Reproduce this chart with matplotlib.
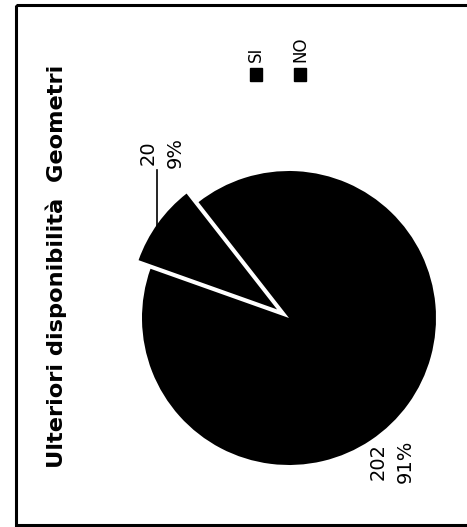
import numpy as np
import matplotlib as mpl
mpl.use('agg')
import matplotlib.pyplot as plt
from matplotlib.patches import Rectangle

# data
categories = ['SI', 'NO']
counts     = [20, 202]
pct_labels = ['9%', '91%']
title      = 'Ulteriori disponibilità  Geometri'

W, H = 467, 527
fig = plt.figure(figsize=(W/100, H/100), dpi=100)
fig.patch.set_facecolor('white')

# overlay axes in pixel coordinates (y down)
ov = fig.add_axes([0, 0, 1, 1])
ov.set_xlim(0, W)
ov.set_ylim(H, 0)
ov.axis('off')
ov.add_patch(Rectangle((16, 5), 470, 520, fill=False, lw=2.2, ec='k'))

# pie: center (289,318) px, radius 147 px
cx, cy, r = 289, 318, 147
lim = 1.2
side = 2*lim*r
ax = fig.add_axes([(cx - side/2)/W, (H - cy - side/2)/H, side/W, side/H])
wedges, _ = ax.pie(counts, explode=[0.1, 0.0], startangle=128,
                   colors=['k', 'k'], wedgeprops=dict(linewidth=0))
ax.set_xlim(-lim, lim)
ax.set_ylim(-lim, lim)
ax.set_aspect('equal')
ax.axis('off')

# leader line for the small slice
ov.plot([157, 157], [170, 226], color='k', lw=1.2)

lab_font = dict(family='DejaVu Sans', fontsize=14, rotation=90,
                ha='center', va='center', linespacing=1.55)
ov.text(162, 153, f'{counts[0]}\n{pct_labels[0]}', **lab_font)
ov.text(392, 461, f'{counts[1]}\n{pct_labels[1]}', **lab_font)

# title
ov.text(56, 266, title, rotation=90, ha='center', va='center',
        fontsize=16.2, fontweight='bold', family='DejaVu Sans')

# legend (rotated)
leg_x = [256, 300]
for x, name in zip(leg_x, categories):
    ov.add_patch(Rectangle((x - 6, 68), 12, 13, color='k'))
    ov.text(x, 62, name, rotation=90, ha='center', va='bottom',
            fontsize=12, family='DejaVu Sans')

fig.savefig('out.png', dpi=100, facecolor='w')
